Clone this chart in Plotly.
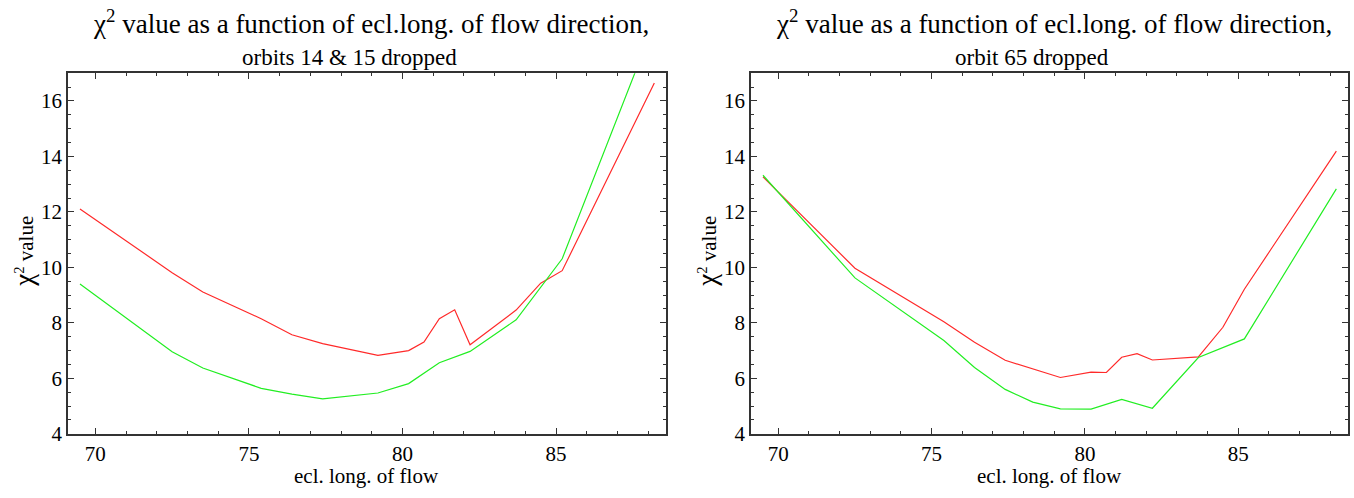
import plotly.graph_objects as go

# Left panel: orbits 14 & 15 dropped
left_red_x = [69.5, 72.5, 73.5, 74.5, 75.4, 76.4, 77.4, 79.2, 80.2, 80.7, 81.2, 81.7, 82.2, 83.7, 84.5, 85.2, 88.2]
left_red_y = [12.10, 9.81, 9.11, 8.61, 8.15, 7.57, 7.25, 6.83, 7.00, 7.31, 8.15, 8.47, 7.21, 8.46, 9.43, 9.88, 16.65]
left_green_x = [69.5, 72.5, 73.5, 75.4, 76.4, 77.4, 79.2, 80.2, 81.2, 82.2, 83.7, 84.5, 85.2, 88.2]
left_green_y = [9.40, 6.96, 6.37, 5.64, 5.43, 5.26, 5.47, 5.81, 6.56, 6.97, 8.11, 9.30, 10.31, 18.8]

# Right panel: orbit 65 dropped
right_red_x = [69.5, 72.5, 75.4, 76.4, 77.4, 79.2, 80.2, 80.7, 81.2, 81.7, 82.2, 83.7, 84.5, 85.2, 88.2]
right_red_y = [13.26, 9.97, 8.04, 7.30, 6.65, 6.03, 6.22, 6.21, 6.76, 6.89, 6.66, 6.77, 7.84, 9.21, 14.19]
right_green_x = [69.5, 72.5, 75.4, 76.4, 77.4, 78.3, 79.2, 80.2, 81.2, 82.2, 83.7, 85.2, 88.2]
right_green_y = [13.32, 9.62, 7.36, 6.39, 5.60, 5.14, 4.90, 4.89, 5.24, 4.92, 6.75, 7.42, 12.83]

titles = ["orbits 14 &amp; 15 dropped", "orbit 65 dropped"]
main_title = "χ<sup>2</sup> value as a function of ecl.long. of flow direction,"
x_title = "ecl. long. of flow"
y_title = "<span style='font-size:27px'>χ</span><sup>2</sup> value"
x_range = [69.11, 88.58]
y_range = [4, 17]

W, H = 1354, 498
FONT = "Times New Roman, Liberation Serif, DejaVu Serif, serif"
RED = "#ff2a2a"
GREEN = "#22ee22"
INK = "#000000"

fig = go.Figure()
fig.add_trace(go.Scatter(x=left_red_x, y=left_red_y, mode="lines", line=dict(color=RED, width=1.2), xaxis="x", yaxis="y"))
fig.add_trace(go.Scatter(x=left_green_x, y=left_green_y, mode="lines", line=dict(color=GREEN, width=1.2), xaxis="x", yaxis="y"))
fig.add_trace(go.Scatter(x=right_red_x, y=right_red_y, mode="lines", line=dict(color=RED, width=1.2), xaxis="x2", yaxis="y2"))
fig.add_trace(go.Scatter(x=right_green_x, y=right_green_y, mode="lines", line=dict(color=GREEN, width=1.2), xaxis="x2", yaxis="y2"))

px_left = [(68, 666), (751, 1348)]
y_dom = [(H - 444.5) / H, (H - 75) / H]

def xaxis(dom, anchor):
    return dict(domain=[dom[0] / W, dom[1] / W], anchor=anchor, range=x_range,
                showgrid=False, zeroline=False, showline=True, linecolor="#333", linewidth=1.5,
                mirror="allticks", ticks="inside", ticklen=6, tickwidth=1, tickcolor="#333",
                dtick=5, tick0=70, tickfont=dict(family=FONT, size=21, color=INK),
                minor=dict(dtick=1, ticks="inside", ticklen=3.5, tickcolor="#333", tickwidth=1, showgrid=False))

def yaxis(anchor):
    return dict(domain=y_dom, anchor=anchor, range=y_range,
                showgrid=False, zeroline=False, showline=True, linecolor="#333", linewidth=1.5,
                mirror="allticks", ticks="inside", ticklen=6, tickwidth=1, tickcolor="#333",
                dtick=2, tick0=4, tickfont=dict(family=FONT, size=21, color=INK),
                minor=dict(dtick=0.5, ticks="inside", ticklen=3.5, tickcolor="#333", tickwidth=1, showgrid=False))

annotations = []
for i, (a, b) in enumerate(px_left):
    cx = (a + b) / 2
    annotations.append(dict(text=main_title, x=(cx + 4) / W, y=1 - 23 / H, xref="paper", yref="paper",
                            showarrow=False, font=dict(family=FONT, size=27, color=INK),
                            xanchor="center", yanchor="middle"))
    annotations.append(dict(text=titles[i], x=(cx - 18) / W, y=1 - 59 / H, xref="paper", yref="paper",
                            showarrow=False, font=dict(family=FONT, size=23, color=INK),
                            xanchor="center", yanchor="middle"))
    annotations.append(dict(text=x_title, x=cx / W, y=1 - 488 / H, xref="paper", yref="paper",
                            showarrow=False, font=dict(family=FONT, size=21, color=INK),
                            xanchor="center", yanchor="middle"))
    annotations.append(dict(text=y_title, x=(a - 44) / W, y=1 - 258 / H, xref="paper", yref="paper",
                            showarrow=False, textangle=-90, font=dict(family=FONT, size=21, color=INK),
                            xanchor="center", yanchor="middle"))

fig.update_layout(
    width=W, height=H, margin=dict(l=0, r=0, t=0, b=0),
    paper_bgcolor="white", plot_bgcolor="white", showlegend=False,
    font=dict(family=FONT),
    xaxis=xaxis(px_left[0], "y"), yaxis=yaxis("x"),
    xaxis2=xaxis(px_left[1], "y2"), yaxis2=yaxis("x2"),
    annotations=annotations,
)

fig.write_html("out.html")
